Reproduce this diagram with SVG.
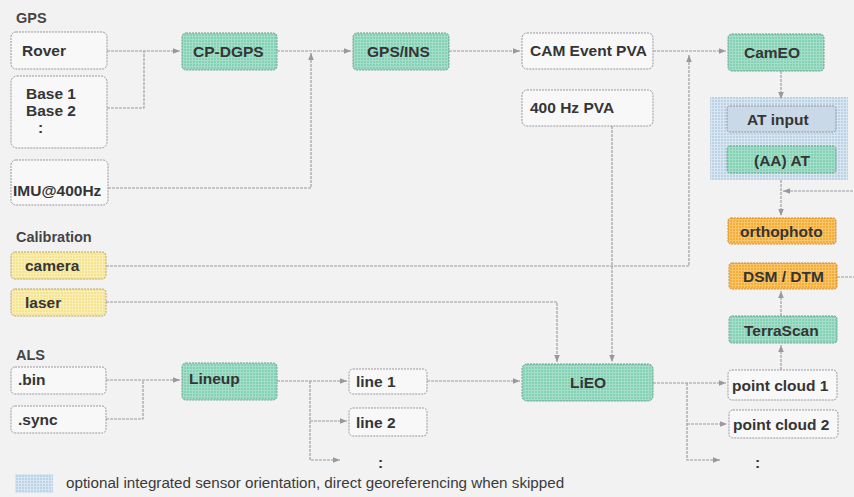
<svg xmlns="http://www.w3.org/2000/svg" width="854" height="497" viewBox="0 0 854 497">
<defs>
<pattern id="pg" width="3" height="3" patternUnits="userSpaceOnUse"><rect width="3" height="3" fill="#84d2b6"/><path d="M0,0.5H3M0.5,0V3" stroke="#a4dec9" stroke-width="1"/></pattern>
<pattern id="py" width="3" height="3" patternUnits="userSpaceOnUse"><rect width="3" height="3" fill="#f6e38e"/><path d="M0,0.5H3M0.5,0V3" stroke="#f9eeb6" stroke-width="1"/></pattern>
<pattern id="po" width="3" height="3" patternUnits="userSpaceOnUse"><rect width="3" height="3" fill="#f5ad36"/><path d="M0,0.5H3M0.5,0V3" stroke="#f8c56c" stroke-width="1"/></pattern>
<pattern id="pb" width="3" height="3" patternUnits="userSpaceOnUse"><rect width="3" height="3" fill="#bcd2e6"/><path d="M0,0.5H3M0.5,0V3" stroke="#d9e5ef" stroke-width="1"/></pattern>
<marker id="ah" viewBox="0 0 8 8" refX="8" refY="4" markerWidth="7" markerHeight="7" markerUnits="userSpaceOnUse" orient="auto"><path d="M0,0.8L8,4L0,7.2z" fill="#9c979d"/></marker>
<style>
.w{fill:#f8f8f9;stroke:#9a979c;stroke-width:1;stroke-dasharray:2 1}
.g{fill:url(#pg);stroke:#6e9d8c;stroke-width:1;stroke-dasharray:2 1}
.y{fill:url(#py);stroke:#b8a45e;stroke-width:1;stroke-dasharray:2 1}
.o{fill:url(#po);stroke:#c98a2a;stroke-width:1;stroke-dasharray:2 1}
.bi{fill:#c9d9e7;stroke:#8c96a0;stroke-width:1;stroke-dasharray:2 1}
text{font-family:"Liberation Sans",Arial,sans-serif;font-weight:bold;font-size:15.5px;fill:#353535}
.h{font-size:14.5px;fill:#454545}
.lg{font-weight:normal;font-size:15.2px;fill:#3a3a3a}
.c path{fill:none;stroke:#9c979d;stroke-width:1.1;stroke-dasharray:3 1}
</style>
</defs>
<rect width="854" height="497" fill="#f2f2f3"/>

<text class="h" x="16" y="23">GPS</text>
<text class="h" x="16" y="242">Calibration</text>
<text class="h" x="16" y="360">ALS</text>

<g id="panel"><rect x="710" y="97" width="138" height="83" fill="url(#pb)"/></g>

<g class="c" id="connectors">
<path d="M107,51H180" marker-end="url(#ah)"/>
<path d="M107,108H144V51"/>
<path d="M277,51H351" marker-end="url(#ah)"/>
<path d="M108,188H311V53" marker-end="url(#ah)"/>
<path d="M449,51H520" marker-end="url(#ah)"/>
<path d="M653,51H726" marker-end="url(#ah)"/>
<path d="M106,266H689V55" marker-end="url(#ah)"/>
<path d="M612,126V362" marker-end="url(#ah)"/>
<path d="M106,302H557V362" marker-end="url(#ah)"/>
<path d="M781,71V99" marker-end="url(#ah)"/>
<path d="M781,180V216" marker-end="url(#ah)"/>
<path d="M837,277H860V191H783" marker-end="url(#ah)"/>
<path d="M781,316V291" marker-end="url(#ah)"/>
<path d="M781,370V345" marker-end="url(#ah)"/>
<path d="M653,383H726" marker-end="url(#ah)"/>
<path d="M687,383V460H720" marker-end="url(#ah)"/>
<path d="M687,424H727" marker-end="url(#ah)"/>
<path d="M106,380H180" marker-end="url(#ah)"/>
<path d="M106,419H143V380"/>
<path d="M277,381H347" marker-end="url(#ah)"/>
<path d="M310,381V460H340" marker-end="url(#ah)"/>
<path d="M310,421H347" marker-end="url(#ah)"/>
<path d="M427,381H520" marker-end="url(#ah)"/>
</g>

<g id="rover"><rect class="w" x="11" y="32" width="96" height="37" rx="5"/><text x="22" y="56">Rover</text></g>
<g id="base"><rect class="w" x="11" y="76" width="96" height="72" rx="6"/><text x="26" y="99">Base 1</text><text x="26" y="116">Base 2</text><text x="38" y="133">:</text></g>
<g id="imu"><rect class="w" x="11" y="160" width="97" height="45" rx="5"/><text x="13" y="196">IMU@400Hz</text></g>
<g id="cpdgps"><rect class="g" x="182" y="33" width="95" height="37" rx="4"/><text x="193" y="57">CP-DGPS</text></g>
<g id="gpsins"><rect class="g" x="353" y="33" width="96" height="37" rx="4"/><text x="367" y="57">GPS/INS</text></g>
<g id="campva"><rect class="w" x="522" y="33" width="131" height="36" rx="5"/><text x="530" y="56">CAM Event PVA</text></g>
<g id="pva400"><rect class="w" x="522" y="90" width="131" height="36" rx="5"/><text x="530" y="113">400 Hz PVA</text></g>
<g id="cameo"><rect class="g" x="728" y="34" width="96" height="37" rx="4"/><text x="744" y="58">CamEO</text></g>
<g id="atinput"><rect class="bi" x="727" y="106" width="109" height="26" rx="3"/><text x="747" y="125">AT input</text></g>
<g id="aaat"><rect class="g" x="727" y="146" width="109" height="27" rx="3"/><text x="754" y="166">(AA) AT</text></g>
<g id="ortho"><rect class="o" x="728" y="218" width="108" height="26" rx="3"/><text x="740" y="237">orthophoto</text></g>
<g id="dsm"><rect class="o" x="729" y="263" width="108" height="26" rx="3"/><text x="743" y="282">DSM / DTM</text></g>
<g id="terrascan"><rect class="g" x="729" y="316" width="108" height="27" rx="3"/><text x="744" y="336">TerraScan</text></g>
<g id="pc1"><rect class="w" x="728" y="370" width="109" height="30" rx="4"/><text x="732" y="391">point cloud 1</text></g>
<g id="pc2"><rect class="w" x="729" y="410" width="109" height="28" rx="4"/><text x="733" y="430">point cloud 2</text></g>
<text x="755" y="468">:</text>
<g id="camera"><rect class="y" x="11" y="252" width="95" height="27" rx="4"/><text x="25" y="271">camera</text></g>
<g id="laser"><rect class="y" x="11" y="289" width="95" height="27" rx="4"/><text x="25" y="308">laser</text></g>
<g id="bin"><rect class="w" x="11" y="367" width="95" height="27" rx="4"/><text x="18" y="385">.bin</text></g>
<g id="sync"><rect class="w" x="11" y="406" width="95" height="27" rx="4"/><text x="18" y="425">.sync</text></g>
<g id="lineup"><rect class="g" x="182" y="363" width="95" height="37" rx="4"/><text x="189" y="384">Lineup</text></g>
<g id="line1"><rect class="w" x="349" y="369" width="78" height="25" rx="4"/><text x="356" y="387">line 1</text></g>
<g id="line2"><rect class="w" x="349" y="408" width="78" height="28" rx="4"/><text x="356" y="428">line 2</text></g>
<text x="378" y="468">:</text>
<g id="lieo"><rect class="g" x="522" y="364" width="131" height="37" rx="5"/><text x="570" y="388">LiEO</text></g>

<g id="legend"><rect x="15" y="474" width="38" height="19" fill="url(#pb)"/><text class="lg" x="66" y="488">optional integrated sensor orientation, direct georeferencing when skipped</text></g>
</svg>
